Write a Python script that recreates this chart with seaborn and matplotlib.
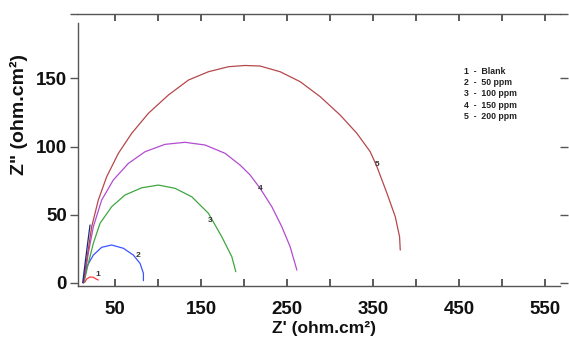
import matplotlib
matplotlib.use("Agg")
import matplotlib.pyplot as plt
from matplotlib.ticker import FixedLocator, FuncFormatter
import seaborn as sns
import pandas as pd

# Nyquist data (Z' real part, Z'' imaginary part), ohm.cm2
blank_re = [13, 15.1, 17, 20.9, 24.8, 28.7, 30.6]
blank_im = [0, 0.5, 2.7, 4.2, 4.0, 2.5, 2.0]

ppm50_re = [13.5, 17.1, 24.8, 34.5, 46.1, 59.7, 71.3, 79.1, 83, 83]
ppm50_im = [0, 11.7, 20.3, 26.0, 27.7, 25.3, 20.3, 14.2, 6.9, 1.5]

ppm100_re = [13.9, 19, 24.8, 32.6, 46.1, 61.6, 81, 100.4, 119.8, 139.2, 158.5, 174, 185.7, 190.3]
ppm100_im = [0, 14.2, 28.9, 43.6, 55.8, 64.4, 69.7, 71.7, 69.3, 63.1, 51.0, 33.8, 19.1, 8.1]

ppm150_re = [13.5, 19, 24.8, 34.5, 48, 65.5, 84.9, 108.1, 131.4, 154.7, 177.9, 195.3,
             207, 218.6, 232.2, 243.8, 253.5, 261.3]
ppm150_im = [0, 21.6, 41.1, 60.7, 75.4, 87.6, 96.2, 101.6, 103.1, 101.1, 95.0, 86.4,
             79.1, 69.3, 55.8, 41.1, 26.4, 9.3]

ppm200_re = [13.2, 17.1, 22.9, 30.6, 40.3, 53.9, 69.4, 88.8, 112, 135.3, 158.5, 181.8,
             201, 218.6, 241.9, 265.1, 288.4, 311.6, 331, 346.5, 354.3, 366, 375.6,
             380.6, 381.4]
ppm200_im = [0, 16.7, 41.1, 60.7, 77.8, 95.0, 109.7, 124.4, 137.8, 148.8, 154.9, 158.6,
             159.5, 159.1, 154.9, 147.6, 136.6, 123.1, 109.7, 96.2, 85.2, 65.6, 48.5,
             33.8, 24.0]

# short high-frequency segment near the origin
hf_re = [12.5, 15, 18, 21]
hf_im = [0, 13, 28, 42.4]

series_labels = ["1", "2", "3", "4", "5"]
legend_lines = ["1  -  Blank", "2  -  50 ppm", "3  -  100 ppm", "4  -  150 ppm", "5  -  200 ppm"]
label_pos_re = [30.5, 76.5, 161, 218.6, 354]
label_pos_im = [5.8, 20.3, 46, 69.3, 86.5]

x_tick_values = [50, 100, 150, 200, 250, 300, 350, 400, 450, 500, 550]
x_labelled = [50, 150, 250, 350, 450, 550]
y_tick_values = [0, 50, 100, 150]

colors = ["#ff3b3b", "#3a55ff", "#3fa63f", "#b24cd0", "#b5484c"]
spine_col = "#555555"

frames = []
for name, xs, ys in zip(series_labels,
                        [blank_re, ppm50_re, ppm100_re, ppm150_re, ppm200_re],
                        [blank_im, ppm50_im, ppm100_im, ppm150_im, ppm200_im]):
    frames.append(pd.DataFrame({"re": xs, "im": ys, "curve": name}))
df = pd.concat(frames, ignore_index=True)
hf = pd.DataFrame({"re": hf_re, "im": hf_im})

sns.set_style("ticks")
plt.rcParams["font.family"] = ["Liberation Sans", "DejaVu Sans"]

fig = plt.figure(figsize=(5.69, 3.41), dpi=100)
ax = fig.add_axes([78 / 569, 1 - 286 / 341, (560 - 78) / 569, (286 - 14) / 341])

for name, col in zip(series_labels, colors):
    sub = df[df["curve"] == name]
    sns.lineplot(data=sub, x="re", y="im", sort=False, color=col,
                 linewidth=0.9, estimator=None, ax=ax)
sns.lineplot(data=hf, x="re", y="im", sort=False, color="#1a2a80",
             linewidth=0.9, estimator=None, ax=ax)

for lab, lx, ly in zip(series_labels, label_pos_re, label_pos_im):
    ax.text(lx, ly, lab, fontsize=6, fontweight="bold", color="#333333",
            ha="center", va="center")

for i, line in enumerate(legend_lines):
    ax.text(0.80, 0.79 - i * 0.042, line, transform=ax.transAxes,
            fontsize=6.3, fontweight="bold", color="#222222", ha="left", va="center")

ax.set_xlim(7, 567)
ax.set_ylim(-2.4, 197.3)

ax.xaxis.set_major_locator(FixedLocator(x_tick_values))
ax.xaxis.set_major_formatter(FuncFormatter(
    lambda v, pos: f"{v:.0f}" if round(v) in x_labelled else ""))
ax.yaxis.set_major_locator(FixedLocator(y_tick_values + [197.3]))
ax.yaxis.set_major_formatter(FuncFormatter(
    lambda v, pos: f"{v:.0f}" if round(v) in y_tick_values else ""))

for s in ["left", "top", "bottom"]:
    ax.spines[s].set_color(spine_col)
    ax.spines[s].set_linewidth(1.0)
ax.spines["right"].set_visible(False)
ax.spines["left"].set_bounds(-2.4, 190.7)

ax.set_xlabel("Z' (ohm.cm\u00b2)", fontsize=12.5, fontweight="bold", color="#111111")
ax.set_ylabel('Z" (ohm.cm\u00b2)', fontsize=14, fontweight="bold", color="#111111")
ax.xaxis.set_label_coords(0.51, -0.1275)
ax.xaxis.label.set_va("top")
ax.yaxis.set_label_coords(-0.104, 0.63)

ax.tick_params(axis="x", which="major", direction="in", top=True, bottom=True,
               length=5, width=1.1, color=spine_col, labelsize=13.5, pad=11,
               labelcolor="#111111")
ax.tick_params(axis="y", which="major", direction="out", left=True, right=True,
               length=6, width=1.0, color=spine_col, labelsize=13.5, pad=2,
               labelcolor="#111111")
for t in ax.get_xticklabels() + ax.get_yticklabels():
    t.set_fontweight("bold")

# inward tick strokes on the top and bottom frame at the major x tick positions
xax = ax.get_xaxis_transform()
ax.vlines(x_tick_values, 0, 0.026, transform=xax, colors=spine_col,
          linewidth=1.1, clip_on=False, zorder=5)
ax.vlines(x_tick_values, 0.974, 1, transform=xax, colors=spine_col,
          linewidth=1.1, clip_on=False, zorder=5)

fig.savefig("out.png", dpi=100)
